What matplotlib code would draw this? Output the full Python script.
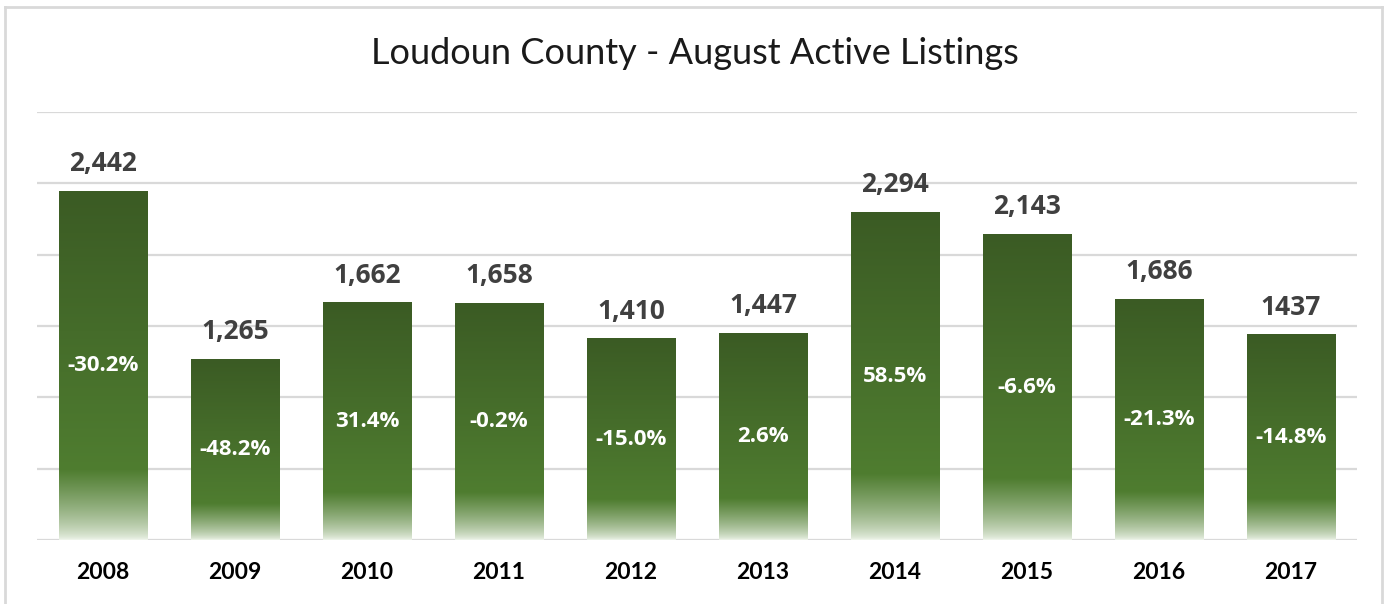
import matplotlib.pyplot as plt
import numpy as np
from matplotlib.colors import to_rgb

years = ['2008', '2009', '2010', '2011', '2012', '2013', '2014', '2015', '2016', '2017']
listings = [2442, 1265, 1662, 1658, 1410, 1447, 2294, 2143, 1686, 1437]
value_labels = ['2,442', '1,265', '1,662', '1,658', '1,410', '1,447', '2,294', '2,143', '1,686', '1437']
pct_change = ['-30.2%', '-48.2%', '31.4%', '-0.2%', '-15.0%', '2.6%', '58.5%', '-6.6%', '-21.3%', '-14.8%']

plt.rcParams['font.family'] = ['Lato', 'DejaVu Sans']

fig = plt.figure(figsize=(13.89, 6.04), dpi=100)
ax = fig.add_axes([0.0266, 0.106, 0.9504, 0.7086])

# gridlines
for g in range(0, 3001, 500):
    ax.axhline(g, color='#d9d9d9', lw=1.6, zorder=0)

dark = np.array(to_rgb('#3b5b24'))
mid = np.array(to_rgb('#4f7d30'))
light = np.array(to_rgb('#eef4ea'))

def bar_gradient(n=300, fade=0.2):
    t = np.linspace(0, 1, n)  # 0 bottom, 1 top
    cols = np.zeros((n, 1, 3))
    for i, v in enumerate(t):
        if v < fade:
            a = v / fade
            a = a ** 0.7
            cols[i, 0] = light + (mid - light) * a
        else:
            a = (v - fade) / (1 - fade)
            cols[i, 0] = mid + (dark - mid) * a
    return cols

w = 0.667
for i, h in enumerate(listings):
    ax.imshow(bar_gradient(), extent=[i - w / 2, i + w / 2, 0, h], origin='lower',
              aspect='auto', interpolation='bilinear', zorder=2)
    ax.text(i, h + 100, value_labels[i], ha='center', va='bottom', fontsize=19,
            fontweight='bold', color='#404040', family=['Open Sans', 'DejaVu Sans'])
    ax.text(i, h / 2, pct_change[i], ha='center', va='center', fontsize=16,
            fontweight='bold', color='white', zorder=3, family=['Open Sans', 'DejaVu Sans'])

ax.set_xlim(-0.5, len(years) - 0.5)
ax.set_ylim(0, 3000)
ax.set_xticks(range(len(years)))
ax.set_xticklabels(years, fontsize=16.5, fontweight='bold', color='black')
ax.tick_params(axis='x', length=0, pad=16)
ax.set_yticks([])
for s in ax.spines.values():
    s.set_visible(False)

fig.text(0.5, 0.912, 'Loudoun County - August Active Listings', ha='center', va='center',
         fontsize=26, color='#1a1a1a')

# outer frame
fig.add_artist(plt.Line2D([5 / 1389, 5 / 1389], [0, 1 - 7 / 604], color='#d9d9d9', lw=2))
fig.add_artist(plt.Line2D([5 / 1389, 1382 / 1389], [1 - 7 / 604, 1 - 7 / 604], color='#d9d9d9', lw=2))
fig.add_artist(plt.Line2D([1382 / 1389, 1382 / 1389], [0, 1 - 7 / 604], color='#d9d9d9', lw=2))

fig.savefig('out.png', dpi=100)
